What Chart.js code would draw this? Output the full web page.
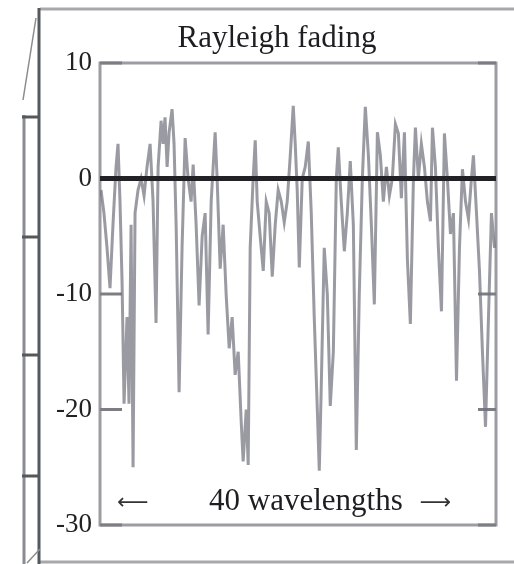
<!DOCTYPE html>
<html>
<head>
<meta charset="utf-8">
<script src="https://cdn.jsdelivr.net/npm/chart.js@4"></script>
<style>
  html, body { margin:0; padding:0; background:#fff; }
  #wrap { width:514px; height:564px; }
</style>
</head>
<body>
<div id="wrap"><canvas id="fading" width="514" height="564"></canvas></div>
<script>
/* Rayleigh fading – signal level (dB) along 40 wavelengths */
const TITLE = 'Rayleigh fading';
const SPAN_LABEL = '40 wavelengths';
const Y_TICKS = [10, 0, -10, -20, -30];

// distance along the path, in wavelengths
const posWl = [
  0.10, 0.40, 0.71, 1.01, 1.31, 1.62, 1.82, 2.02, 2.23, 2.43, 2.73, 2.93, 3.14, 3.34, 3.54, 3.84,
  4.15, 4.45, 4.75, 5.06, 5.36, 5.66, 5.87, 6.17, 6.37, 6.57, 6.78, 6.98, 7.28, 7.48, 7.69, 7.99,
  8.29, 8.60, 8.90, 9.20, 9.41, 9.71, 10.01, 10.32, 10.62, 10.92, 11.23, 11.43, 11.63, 11.83, 12.14, 12.44,
  12.74, 13.05, 13.35, 13.65, 13.96, 14.26, 14.46, 14.77, 14.97, 15.17, 15.47, 15.68, 15.88, 16.18, 16.49, 16.79,
  17.09, 17.40, 17.70, 18.00, 18.31, 18.61, 18.91, 19.22, 19.52, 19.72, 19.92, 20.13, 20.43, 20.73, 21.04, 21.34,
  21.64, 21.95, 22.15, 22.35, 22.65, 22.96, 23.26, 23.57, 23.87, 24.07, 24.37, 24.68, 24.98, 25.28, 25.59, 25.89,
  26.19, 26.50, 26.80, 27.11, 27.41, 27.71, 28.02, 28.32, 28.62, 28.93, 29.23, 29.53, 29.84, 30.14, 30.44, 30.75,
  31.05, 31.35, 31.66, 31.86, 32.16, 32.46, 32.77, 33.07, 33.38, 33.58, 33.88, 34.18, 34.49, 34.79, 35.09, 35.40,
  35.70, 36.01, 36.31, 36.61, 36.92, 37.22, 37.52, 37.72, 38.03, 38.33, 38.63, 38.94, 39.24, 39.54, 39.85
];

// received level, dB relative to mean
const levelDb = [
  -1, -3, -6, -9.5, -4, 1, 3, -2, -9, -19.5, -12, -19.5, -4, -25, -3, -1,
  0, -1.5, 1, 3, -2, -12.5, 1, 5, 3, 5.3, 1, 4, 6, 3, -4, -18.5,
  -6, 3.5, 0, -2, 1.2, -4, -11, -5, -3, -13.5, -2, 1, 4, 0, -7.8, -4,
  -10, -14.7, -12, -17, -15, -21, -24.5, -20, -24.8, -6, 0, 3.3, -2, -5, -8, -2,
  -3, -8.5, -4, -1, -2, -3.8, -2, 2, 6.3, 3, -1, -7.7, 0, 1, 3.2, -3,
  -12, -20, -25.3, -18, -6, -10, -19.7, -15, 0, 2.7, -2, -6.3, -3, 1.5, -4, -23.5,
  -10, 0, 6.2, 2, -4, -10.9, 4, 2, -2, 1, -1.5, 0, 4.7, 3.9, -1.7, 4,
  -7, -12.6, 0, 4.4, 0, 3, 1, -2, -3.7, 4.4, 1, -6, -11.5, 3.9, 0, -4.8,
  -3, -17.5, -6, 0.8, -2, -3.5, 0, 2, -3, -8, -15, -21.5, -12, -3, -6
];

const SERIF = '"Liberation Serif", "DejaVu Serif", serif';

/* ----------------------------------------------------------
   Page decoration: scanned page edge, frame, inner ticks, labels
   ---------------------------------------------------------- */
const pageDecor = {
  id: 'pageDecor',
  beforeDraw(chart) {
    const ctx = chart.ctx;
    ctx.save();
    ctx.lineCap = 'butt';
    // page edges from the scan
    ctx.strokeStyle = '#a8a8ac'; ctx.lineWidth = 3;
    ctx.beginPath(); ctx.moveTo(40, 9); ctx.lineTo(514, 9); ctx.stroke();
    ctx.beginPath(); ctx.moveTo(40, 562); ctx.lineTo(514, 562); ctx.stroke();
    ctx.strokeStyle = '#55595c'; ctx.lineWidth = 3;
    ctx.beginPath(); ctx.moveTo(39, 8); ctx.lineTo(39, 564); ctx.stroke();
    ctx.strokeStyle = '#8a8c90';
    ctx.beginPath(); ctx.moveTo(24, 115); ctx.lineTo(24, 564); ctx.stroke();
    ctx.lineWidth = 1.5;
    ctx.beginPath(); ctx.moveTo(23, 100); ctx.lineTo(36, 18); ctx.stroke();
    ctx.beginPath(); ctx.moveTo(27, 563); ctx.lineTo(40, 549); ctx.stroke();
    ctx.strokeStyle = '#55595c'; ctx.lineWidth = 3;
    [117, 237, 355, 476].forEach(y => {
      ctx.beginPath(); ctx.moveTo(22, y); ctx.lineTo(40, y); ctx.stroke();
    });
    // title
    ctx.fillStyle = '#1e1e22';
    ctx.font = '31px ' + SERIF;
    ctx.textAlign = 'center'; ctx.textBaseline = 'middle';
    ctx.fillText(TITLE, 277, 39);
    ctx.restore();
  },
  beforeDatasetsDraw(chart) {
    const { ctx, chartArea: a, scales: { y } } = chart;
    ctx.save();
    ctx.strokeStyle = '#9c9ca2'; ctx.lineWidth = 3;
    ctx.strokeRect(a.left, a.top, a.right - a.left, a.bottom - a.top);
    ctx.strokeStyle = '#7c7e84';
    Y_TICKS.filter(v => v !== 0).forEach(v => {
      const py = y.getPixelForValue(v);
      ctx.beginPath(); ctx.moveTo(a.left, py); ctx.lineTo(a.left + 22, py); ctx.stroke();
      ctx.beginPath(); ctx.moveTo(a.right - 18, py); ctx.lineTo(a.right, py); ctx.stroke();
    });
    ctx.restore();
  },
  afterDatasetsDraw(chart) {
    const { ctx, scales: { x } } = chart;
    ctx.save();
    ctx.fillStyle = '#1e1e22';
    ctx.textBaseline = 'alphabetic'; ctx.textAlign = 'center';
    ctx.font = '31px ' + SERIF;
    ctx.fillText(SPAN_LABEL, x.getPixelForValue(20.8), 510);
    ctx.font = '22px "DejaVu Sans", sans-serif';
    ctx.fillStyle = '#333';
    ctx.fillText('\u27F5', x.getPixelForValue(3.3), 509);
    ctx.fillText('\u27F6', x.getPixelForValue(33.9), 509);
    ctx.restore();
  }
};

new Chart(document.getElementById('fading'), {
  type: 'line',
  data: {
    datasets: [
      { label: 'mean', data: [{ x: 0, y: 0 }, { x: 40, y: 0 }],
        borderColor: '#222226', borderWidth: 5, pointRadius: 0, order: 0 },
      { label: 'level', data: posWl.map((p, i) => ({ x: p, y: levelDb[i] })),
        borderColor: 'rgba(115,115,126,0.72)', borderWidth: 3,
        pointRadius: 0, tension: 0, order: 1 },
    ],
  },
  options: {
    responsive: false, animation: false,
    layout: { padding: { top: 63, right: 18, bottom: 39, left: 0 } },
    plugins: { legend: { display: false }, tooltip: { enabled: false }, title: { display: false } },
    scales: {
      x: { type: 'linear', min: 0, max: 40, display: false },
      y: {
        min: -30, max: 10,
        afterFit(scale) { scale.width = 100; },
        afterBuildTicks(scale) { scale.ticks = Y_TICKS.map(v => ({ value: v })); },
        ticks: { padding: 8, color: '#222', font: { family: SERIF, size: 27 } },
        grid: { display: false, drawTicks: false },
        border: { display: false },
      },
    },
  },
  plugins: [pageDecor],
});
</script>
</body>
</html>
